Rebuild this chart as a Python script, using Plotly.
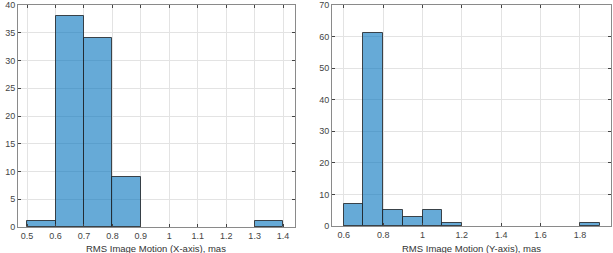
import plotly.graph_objects as go

# Left histogram (X-axis)
x_bin_centers = [0.55, 0.65, 0.75, 0.85, 1.35]
x_counts = [1, 38, 34, 9, 1]
# Right histogram (Y-axis)
y_bin_centers = [0.65, 0.75, 0.85, 0.95, 1.05, 1.15, 1.85]
y_counts = [7, 61, 5, 3, 5, 1, 1]
bin_width = 0.1

left_xticks = [0.5, 0.6, 0.7, 0.8, 0.9, 1.0, 1.1, 1.2, 1.3, 1.4]
left_xticklabels = ["0.5", "0.6", "0.7", "0.8", "0.9", "1", "1.1", "1.2", "1.3", "1.4"]
left_yticks = [0, 5, 10, 15, 20, 25, 30, 35, 40]
right_xticks = [0.6, 0.8, 1.0, 1.2, 1.4, 1.6, 1.8]
right_xticklabels = ["0.6", "0.8", "1", "1.2", "1.4", "1.6", "1.8"]
right_yticks = [0, 10, 20, 30, 40, 50, 60, 70]
left_title = "RMS Image Motion (X-axis), mas"
right_title = "RMS Image Motion (Y-axis), mas"

bar_fill = "rgba(0,114,189,0.6)"
bar_edge = "rgba(35,40,45,0.85)"

fig = go.Figure()
fig.add_trace(go.Bar(x=x_bin_centers, y=x_counts, width=bin_width,
                     marker=dict(color=bar_fill, line=dict(color=bar_edge, width=1)),
                     xaxis="x", yaxis="y", showlegend=False, hoverinfo="skip"))
fig.add_trace(go.Bar(x=y_bin_centers, y=y_counts, width=bin_width,
                     marker=dict(color=bar_fill, line=dict(color=bar_edge, width=1)),
                     xaxis="x2", yaxis="y2", showlegend=False, hoverinfo="skip"))

W, H = 613, 253
axis_common = dict(showgrid=True, gridcolor="#e3e3e3", gridwidth=1,
                   showline=True, linecolor="#8a8a8a", linewidth=1, mirror="ticks",
                   ticks="inside", ticklen=3, tickcolor="#444",
                   ticklabeloverflow="allow",
                   zeroline=False, tickfont=dict(family="Liberation Sans, Arial", size=9, color="#444"),
                   automargin=False)

fig.update_layout(
    width=W, height=H,
    margin=dict(l=0, r=0, t=0, b=0),
    paper_bgcolor="white", plot_bgcolor="white",
    bargap=0,
    font=dict(family="Liberation Sans, Arial", size=9, color="#444"),
    xaxis=dict(domain=[18 / W, 295 / W], range=[0.468, 1.442], anchor="y",
               tickvals=left_xticks, ticktext=left_xticklabels, **axis_common),
    yaxis=dict(domain=[(H - 227) / H, (H - 5) / H], range=[0, 40], anchor="x",
               tickvals=left_yticks, **axis_common),
    xaxis2=dict(domain=[332 / W, 611 / W], range=[0.54, 1.958], anchor="y2",
                tickvals=right_xticks, ticktext=right_xticklabels, **axis_common),
    yaxis2=dict(domain=[(H - 226) / H, (H - 5) / H], range=[0, 70], anchor="x2",
                tickvals=right_yticks, **axis_common),
    annotations=[
        dict(text=left_title, xref="paper", yref="paper", x=(18 + 295) / 2 / W,
             y=(H - 248) / H, xanchor="center", yanchor="middle", showarrow=False,
             font=dict(size=9.5, color="#333")),
        dict(text=right_title, xref="paper", yref="paper", x=(332 + 611) / 2 / W,
             y=(H - 248) / H, xanchor="center", yanchor="middle", showarrow=False,
             font=dict(size=9.5, color="#333")),
    ],
)

fig.write_html("out.html", config={"displayModeBar": False},
               post_script="document.body.style.margin='0';document.body.style.padding='0';")
